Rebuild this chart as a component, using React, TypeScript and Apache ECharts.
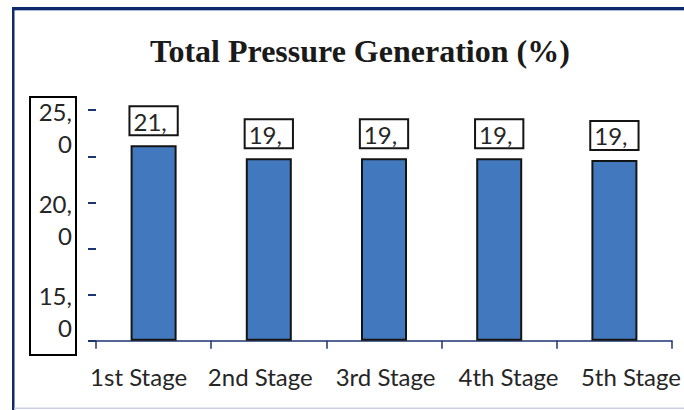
import React, { useEffect, useRef } from "react";
import * as echarts from "echarts";

const titleText = "Total Pressure Generation (%)";
const categories = ["1st Stage", "2nd Stage", "3rd Stage", "4th Stage", "5th Stage"];
const values = [21.2, 19.8, 19.8, 19.8, 19.6];
// y tick labels as they appear, top to bottom
const yTickLabels = ["25,0", "20,0", "15,0"];
const yLabelTickIndex = [5, 3, 1];
const xLabelShift = [-15, -8.5, 1.5, 9.3, 16.5];

const SANS = "Lato, 'Noto Sans', sans-serif";
const TEXT = "#262626";
const NAVY = "#1C3570";

export default function App() {
  const ref = useRef<HTMLDivElement>(null);
  useEffect(() => {
    const chart = echarts.init(ref.current!, null, { renderer: "svg" });
    const xRich: Record<string, any> = {};
    xLabelShift.forEach((s, i) => {
      xRich["s" + i] = {
        fontSize: 24,
        fontFamily: SANS,
        color: TEXT,
        padding: s < 0 ? [0, -2 * s, 0, 0] : [0, 0, 0, 2 * s],
      };
    });
    chart.setOption({
      animation: false,
      backgroundColor: "#ffffff",
      title: {
        text: titleText,
        left: 150,
        top: 35,
        padding: 0,
        textStyle: {
          fontFamily: "'Liberation Serif', 'DejaVu Serif', serif",
          fontWeight: "bold",
          fontSize: 32,
          color: "#1a1a1a",
        },
      },
      grid: { left: 96, right: 12, top: 110.2, bottom: 69.3, containLabel: false },
      xAxis: {
        type: "category",
        data: categories,
        axisLine: { show: true, lineStyle: { color: NAVY, width: 1.5 } },
        axisTick: { show: true, length: 8, lineStyle: { color: NAVY, width: 1.5 } },
        axisLabel: {
          margin: 24,
          interval: 0,
          formatter: (v: string, i: number) => `{s${i}|${v}}`,
          rich: xRich,
        },
      },
      yAxis: {
        type: "value",
        min: 0,
        max: 25,
        interval: 5,
        axisLine: { show: false },
        axisTick: { show: true, length: 8, lineStyle: { color: NAVY, width: 2 } },
        splitLine: { show: false },
        axisLabel: {
          margin: 24,
          align: "right",
          verticalAlign: "top",
          formatter: (_v: number, i: number) => {
            const k = yLabelTickIndex.indexOf(i);
            if (k < 0) return "";
            const s = yTickLabels[k];
            const c = s.indexOf(",") + 1;
            return `{a|${s.slice(0, c)}}\n{b|${s.slice(c)}}`;
          },
          rich: {
            a: { fontSize: 24, lineHeight: 2, fontFamily: SANS, color: TEXT, align: "right" },
            b: { fontSize: 24, lineHeight: 62, fontFamily: SANS, color: TEXT, align: "right" },
          },
        },
      },
      series: [
        {
          type: "bar",
          data: values,
          barWidth: 46,
          itemStyle: { color: "#4279BE", borderColor: "#141414", borderWidth: 2 },
          label: {
            show: true,
            position: "top",
            distance: 11,
            formatter: (p: any) => `${Math.trunc(p.value)},`,
            fontSize: 24,
            lineHeight: 26,
            fontFamily: SANS,
            color: TEXT,
            borderColor: "#141414",
            borderWidth: 2,
            padding: [1, 10, 0, 3],
            backgroundColor: "#ffffff",
          },
        },
      ],
      graphic: [
        { type: "rect", shape: { x: 12, y: 7, width: 672, height: 3 }, style: { fill: "#0F2A6B" }, silent: true },
        { type: "rect", shape: { x: 14, y: 10, width: 670, height: 1 }, style: { fill: "#A9B7DA" }, silent: true },
        { type: "rect", shape: { x: 12, y: 7, width: 2.5, height: 403 }, style: { fill: "#0F2A6B" }, silent: true },
        { type: "rect", shape: { x: 14, y: 407.5, width: 670, height: 1.5 }, style: { fill: "#C9CFE0" }, silent: true },
        {
          type: "rect",
          shape: { x: 30, y: 97, width: 46, height: 258 },
          style: { fill: "none", stroke: "#000000", lineWidth: 2 },
          silent: true,
        },
      ],
    });
    return () => chart.dispose();
  }, []);
  return (
    <div
      ref={ref}
      style={{ position: "absolute", left: 0, top: 0, width: 684, height: 410 }}
    />
  );
}
